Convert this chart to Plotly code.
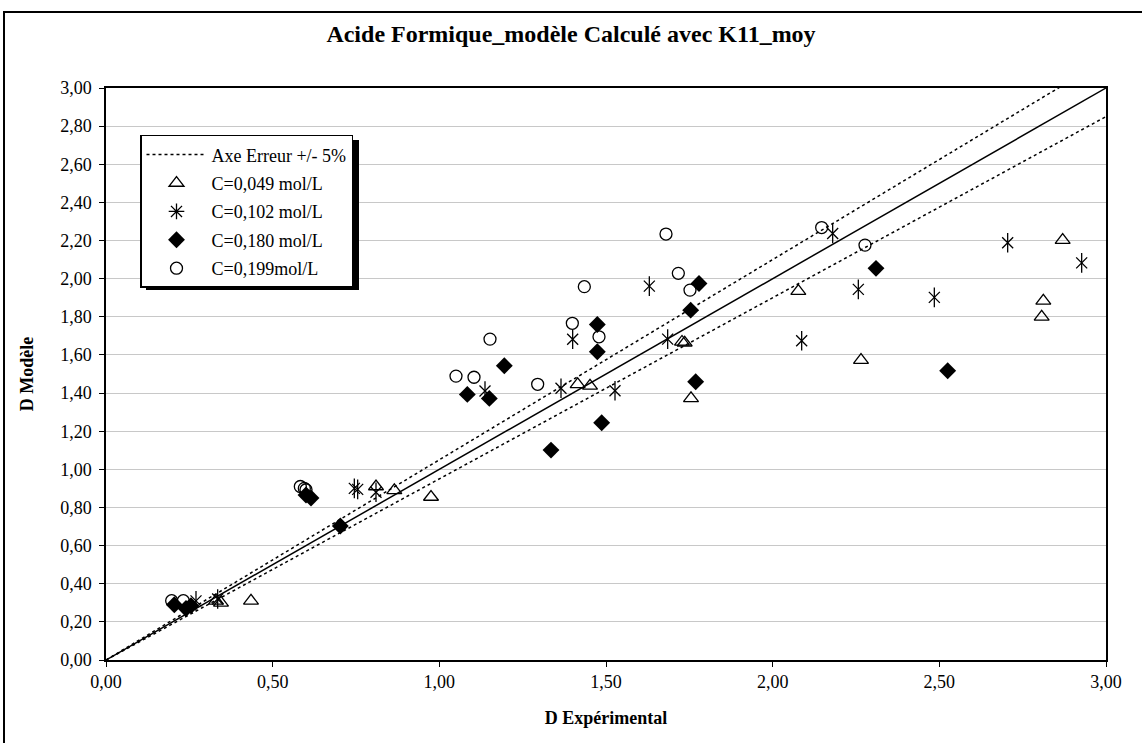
import plotly.graph_objects as go

# ---- data ----
x_049 = [0.33, 0.345, 0.435, 0.81, 0.865, 0.975, 1.415, 1.452, 1.728, 1.736, 1.755, 2.077, 2.265, 2.807, 2.812, 2.870]
y_049 = [0.31, 0.30, 0.31, 0.91, 0.89, 0.855, 1.446, 1.438, 1.668, 1.664, 1.372, 1.935, 1.573, 1.800, 1.884, 2.202]

x_102 = [0.27, 0.335, 0.745, 0.755, 0.81, 1.137, 1.365, 1.40, 1.527, 1.63, 1.685, 2.087, 2.18, 2.257, 2.485, 2.705, 2.927]
y_102 = [0.31, 0.32, 0.90, 0.895, 0.88, 1.411, 1.425, 1.682, 1.412, 1.961, 1.683, 1.674, 2.237, 1.944, 1.902, 2.188, 2.083]

x_180 = [0.205, 0.24, 0.255, 0.60, 0.615, 0.703, 1.084, 1.15, 1.195, 1.335, 1.474, 1.474, 1.487, 1.754, 1.769, 1.779, 2.31, 2.525]
y_180 = [0.29, 0.27, 0.285, 0.865, 0.85, 0.703, 1.393, 1.372, 1.543, 1.101, 1.76, 1.617, 1.244, 1.835, 1.459, 1.975, 2.054, 1.517]

x_199 = [0.197, 0.232, 0.583, 0.595, 0.60, 1.05, 1.104, 1.152, 1.295, 1.399, 1.435, 1.479, 1.68, 1.717, 1.752, 2.147, 2.277]
y_199 = [0.311, 0.311, 0.91, 0.90, 0.893, 1.489, 1.483, 1.683, 1.446, 1.766, 1.958, 1.695, 2.234, 2.028, 1.94, 2.268, 2.176]

line_x = [0.0, 3.0]
err = 0.05

title = "Acide Formique_modèle Calculé avec K11_moy"
x_title = "D Expérimental"
y_title = "D Modèle"
names = ["Axe Erreur +/- 5%", "C=0,049 mol/L", "C=0,102 mol/L", "C=0,180 mol/L", "C=0,199mol/L"]

FONT = "Liberation Serif"

fig = go.Figure()

# reference lines
fig.add_trace(go.Scatter(x=line_x, y=[v * (1 + err) for v in line_x], mode="lines",
                         line=dict(color="black", width=1.5, dash="dot"),
                         name=names[0], legendgroup="g0", hoverinfo="skip"))
fig.add_trace(go.Scatter(x=line_x, y=[v * (1 - err) for v in line_x], mode="lines",
                         line=dict(color="black", width=1.5, dash="dot"),
                         showlegend=False, legendgroup="g0", hoverinfo="skip"))
fig.add_trace(go.Scatter(x=line_x, y=line_x, mode="lines",
                         line=dict(color="black", width=1.5),
                         showlegend=False, hoverinfo="skip"))

# series
fig.add_trace(go.Scatter(x=x_049, y=y_049, mode="markers", name=names[1], legendgroup="g1",
                         marker=dict(symbol="triangle-up-open", size=13, color="black",
                                     line=dict(width=1.3, color="black"))))

# asterisk: legend sample + X and vertical bar overlay
fig.add_trace(go.Scatter(x=[None], y=[None], mode="markers", name=names[2], legendgroup="g2",
                         marker=dict(symbol="asterisk-open", size=13, color="black",
                                     line=dict(width=1.3, color="black"))))
fig.add_trace(go.Scatter(x=x_102, y=y_102, mode="markers", showlegend=False, legendgroup="g2",
                         marker=dict(symbol="x-thin-open", size=11, color="black",
                                     line=dict(width=1.3, color="black"))))
fig.add_trace(go.Scatter(x=x_102, y=y_102, mode="markers", showlegend=False, legendgroup="g2",
                         marker=dict(symbol="line-ns-open", size=14, color="black",
                                     line=dict(width=1.3, color="black"))))

fig.add_trace(go.Scatter(x=x_180, y=y_180, mode="markers", name=names[3], legendgroup="g3",
                         marker=dict(symbol="diamond", size=13, color="black",
                                     line=dict(width=0, color="black"))))
fig.add_trace(go.Scatter(x=x_199, y=y_199, mode="markers", name=names[4], legendgroup="g4",
                         marker=dict(symbol="circle-open", size=12, color="black",
                                     line=dict(width=1.3, color="black"))))

fig.update_layout(
    width=1142, height=743,
    margin=dict(l=106, r=36, t=88, b=83, autoexpand=False),
    paper_bgcolor="white", plot_bgcolor="white",
    separators=", ",
    font=dict(family=FONT, size=18, color="black"),
    title=dict(text="<b>" + title + "</b>", x=0.5, xref="container", xanchor="center",
               y=1 - 34 / 743, yref="container", yanchor="middle",
               font=dict(family=FONT, size=24, color="black")),
    showlegend=True,
    legend=dict(x=0.034, y=0.918, xanchor="left", yanchor="top",
                bgcolor="white", bordercolor="black", borderwidth=1.5,
                font=dict(family=FONT, size=18, color="black"),
                itemwidth=60, tracegroupgap=2, traceorder="grouped"),
    xaxis=dict(range=[0, 3], dtick=0.5, tick0=0, tickformat=".2f",
               showgrid=False, zeroline=False, automargin=False,
               showline=True, linecolor="black", linewidth=1.5, mirror=True,
               ticks="outside", ticklen=5, tickcolor="black",
               tickfont=dict(family=FONT, size=18),
               title=dict(text="<b>" + x_title + "</b>", font=dict(family=FONT, size=18), standoff=20)),
    yaxis=dict(range=[0, 3], dtick=0.2, tick0=0, tickformat=".2f",
               showgrid=True, gridcolor="#c8c8c8", gridwidth=1, zeroline=False, automargin=False,
               showline=True, linecolor="black", linewidth=1.5, mirror=True,
               ticks="outside", ticklen=5, tickcolor="black", ticklabelstandoff=4,
               tickfont=dict(family=FONT, size=18),
               title=dict(text="<b>" + y_title + "</b>", font=dict(family=FONT, size=18), standoff=22)),
    shapes=[
        # outer chart frame
        dict(type="rect", xref="paper", yref="paper", x0=-0.102, x1=1.04, y0=-0.16, y1=1.133,
             line=dict(color="black", width=2), fillcolor="rgba(0,0,0,0)", layer="below"),
        # legend shadow
        dict(type="rect", xref="paper", yref="paper", x0=0.040, x1=0.253, y0=0.647, y1=0.909,
             line=dict(width=0), fillcolor="black", layer="above"),
    ],
)

fig.write_html("out.html", config={"displayModeBar": False},
               post_script="document.body.style.margin='0px';")
